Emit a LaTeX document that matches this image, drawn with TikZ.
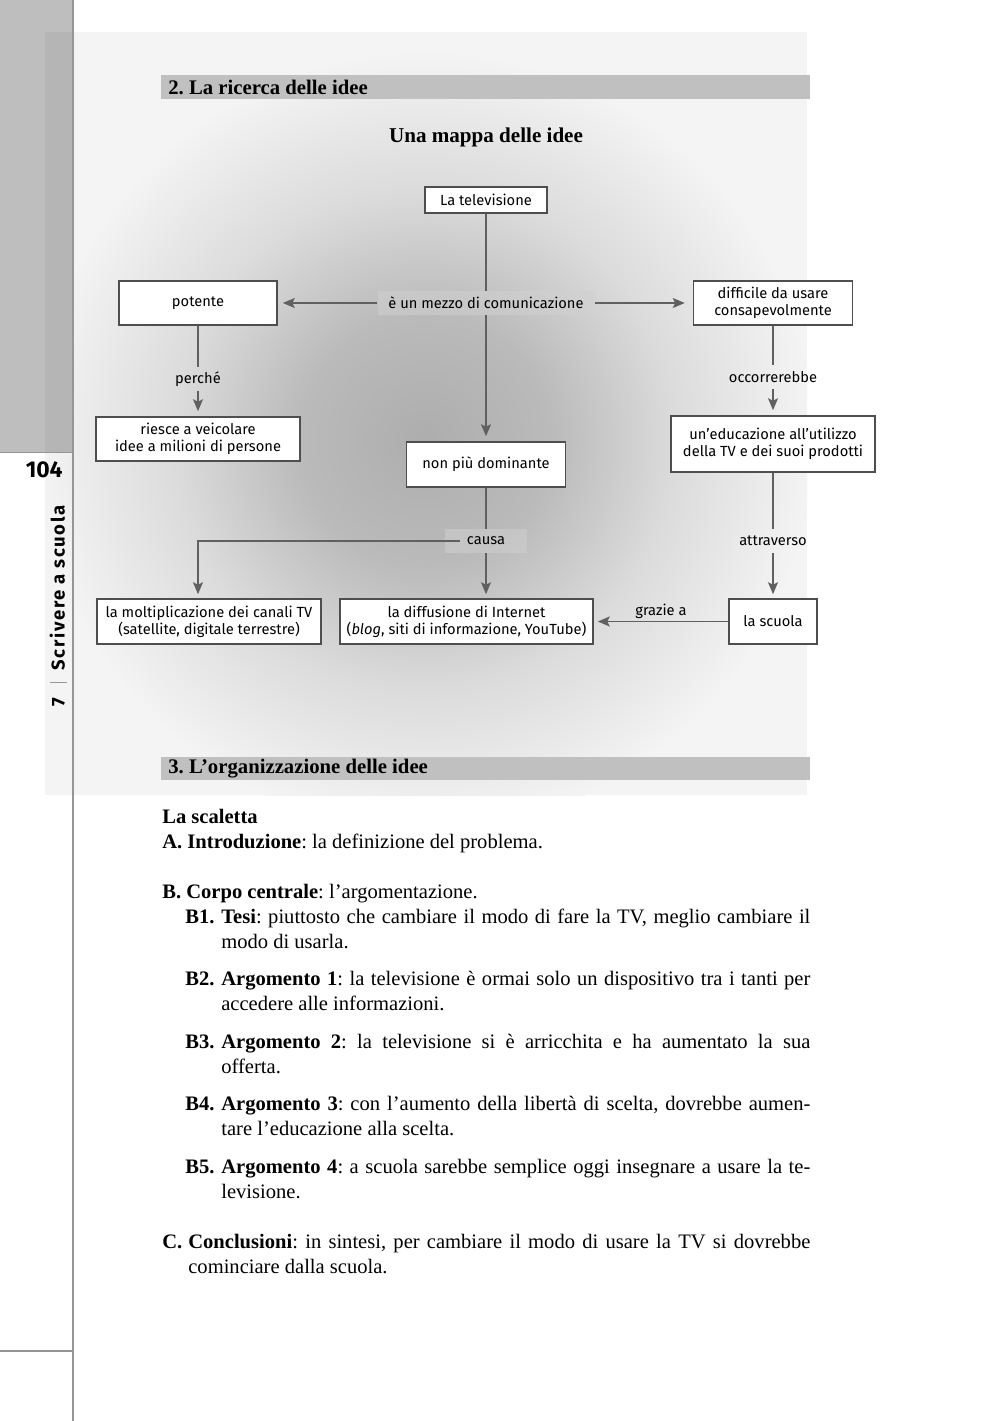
\documentclass[tikz,border=0pt]{standalone}
\usepackage{fontspec}
\setmainfont{Liberation Serif}
\setsansfont{Fira Sans}
\usetikzlibrary{arrows.meta, positioning}

\definecolor{boxgray}{RGB}{78, 78, 78}
\definecolor{linegray}{RGB}{96, 96, 96}
\definecolor{bargray}{RGB}{192, 192, 192}
\definecolor{sidegray}{RGB}{190, 190, 190}
\definecolor{pagegray}{RGB}{244, 244, 244}
\definecolor{rulegray}{RGB}{150, 150, 150}
\pgfdeclareradialshading{cloud}{\pgfpoint{0bp}{0bp}}{color(0bp)=(black!32); color(8bp)=(black!27); color(16bp)=(black!14); color(25bp)=(pagegray); color(50bp)=(pagegray)}

\newcommand{\giusta}[2]{\makebox[#1][s]{#2}}
\frenchspacing

\tikzset{
  idea/.style={draw=boxgray, line width=0.9pt, fill=white, font=\sffamily\fontsize{8.35}{9.8}\selectfont, align=center, inner sep=0pt},
  verb/.style={font=\sffamily\fontsize{8.35}{9.8}\selectfont, inner sep=0pt, minimum height=4.8mm},
  verbbg/.style={verb, fill=black!18, fill opacity=0.5, text opacity=1},
  link/.style={draw=linegray, line width=0.9pt},
  arrow/.style={link, -{Stealth[length=2.4mm, width=2mm, inset=0.5mm]}, shorten >=1mm},
  heading/.style={anchor=west, inner sep=0pt, font=\fontsize{11.8}{13}\selectfont\bfseries},
  body/.style={anchor=base west, inner sep=0pt, font=\fontsize{11.7}{14}\selectfont}
}

\begin{document}
\begin{tikzpicture}[x=0.2mm, y=-0.2mm]
\useasboundingbox (0,0) rectangle (990,1421);

% page background and side band
\fill[pagegray] (45,32) rectangle (807,795);
\begin{scope}
\clip (45,32) rectangle (807,795);
\shade[shading=cloud] (425,440) circle [radius=390];
\end{scope}
\fill[sidegray] (0,0) rectangle (73,452);
\fill[black!29] (45,32) rectangle (73,452);
\draw[rulegray, line width=0.6pt] (73,0) -- (73,1421);
\draw[rulegray, line width=0.5pt] (0,452) -- (73,452);
\draw[rulegray, line width=0.6pt] (0,1351) -- (73,1351);
\node[anchor=east, inner sep=0pt, font=\sffamily\bfseries\fontsize{13}{15}\selectfont] (pagina) at (63,470) {104};
\node[rotate=90, inner sep=0pt, font=\sffamily\bfseries\fontsize{10.5}{12}\selectfont] (sezione) at (58,606)
  {7\hspace{3mm}{\color{rulegray}\rule[-0.4mm]{0.3pt}{3.4mm}}\hspace{2.4mm}{\addfontfeatures{LetterSpace=9}Scrivere a scuola}};

% section 2
\fill[bargray] (161,75) rectangle (810,99);
\node[heading] (ricerca) at (168,87) {2. La ricerca delle idee};
\node[inner sep=0pt, font=\fontsize{12}{14}\selectfont\bfseries] (titolo) at (486,137) {Una mappa delle idee};

% map
\node[idea, minimum width=24.4mm, minimum height=5.2mm] (tv) at (486,200) {La televisione};
\node[verbbg, minimum width=43.4mm] (mezzo) at (486,303) {è un mezzo di comunicazione};
\node[idea, minimum width=31.6mm, minimum height=8.8mm] (potente) at (198,303) {potente};
\node[idea, minimum width=31.8mm, minimum height=8.8mm] (difficile) at (773,303) {difficile da usare\\consapevolmente};
\node[verb] (perche) at (198,379) {perché};
\node[idea, minimum width=40.8mm, minimum height=8.8mm] (riesce) at (198,439) {riesce a veicolare\\idee a milioni di persone};
\node[verb] (occ) at (773,377) {occorrerebbe};
\node[idea, minimum width=40.8mm, minimum height=11.2mm] (educ) at (773,444) {un’educazione all’utilizzo\\della TV e dei suoi prodotti};
\node[idea, minimum width=31.8mm, minimum height=9mm] (nonpiu) at (486,464.5) {non più dominante};
\node[verbbg, minimum width=16.4mm] (causa) at (486,541) {causa};
\node[verb] (attr) at (773,541) {attraverso};
\node[idea, minimum width=44.8mm, minimum height=9mm] (molt) at (209,621.5) {la moltiplicazione dei canali TV\\(satellite, digitale terrestre)};
\node[idea, minimum width=50.6mm, minimum height=9mm] (internet) at (466.5,621.5) {la diffusione di Internet\\(\textit{blog}, siti di informazione, YouTube)};
\node[idea, minimum width=17.6mm, minimum height=9mm] (scuola) at (773,621.5) {la scuola};

\draw[link] (tv) -- (mezzo);
\draw[arrow] (mezzo) -- (potente);
\draw[arrow, shorten >=1.6mm] (mezzo) -- (difficile);
\draw[arrow] (mezzo) -- (nonpiu);
\draw[link] (potente) -- (perche);
\draw[arrow] (perche) -- (riesce);
\draw[link] (difficile) -- (occ);
\draw[arrow] (occ) -- (educ);
\draw[link] (nonpiu) -- (causa);
\draw[arrow, shorten >=0.8mm] (causa.south) -- (causa.south |- internet.north);
\draw[arrow, shorten >=0.8mm, shorten <=-3mm] (causa.west) -| ([xshift=-2.2mm]molt.north);
\draw[link] (educ) -- (attr);
\draw[arrow, shorten >=0.8mm] (attr) -- (scuola);
\draw[arrow, shorten >=0.8mm] (scuola) -- node[verb, above, yshift=-0.6mm] (grazie) {grazie a} (internet);

% section 3
\fill[bargray] (161,757) rectangle (810,780);
\node[heading] (organizzazione) at (168,768.5) {3. L’organizzazione delle idee};

\node[body] (scaletta) at (162,823) {\textbf{La scaletta}};
\node[body] (introd) at (162,848) {\textbf{A. Introduzione}: la definizione del problema.};
\node[body] (corpo) at (162,898) {\textbf{B. Corpo centrale}: l’argomentazione.};
\node[body] (b1) at (185,923) {\makebox[7.2mm][l]{\textbf{B1.}}\giusta{117.8mm}{\textbf{Tesi}: piuttosto che cambiare il modo di fare la TV, meglio cambiare il}};
\node[body] (b1b) at (221,948) {modo di usarla.};
\node[body] (b2) at (185,985) {\makebox[7.2mm][l]{\textbf{B2.}}\giusta{117.8mm}{\textbf{Argomento 1}: la televisione è ormai solo un dispositivo tra i tanti per}};
\node[body] (b2b) at (221,1010) {accedere alle informazioni.};
\node[body] (b3) at (185,1048) {\makebox[7.2mm][l]{\textbf{B3.}}\giusta{117.8mm}{\textbf{Argomento 2}: la televisione si è arricchita e ha aumentato la sua}};
\node[body] (b3b) at (221,1073) {offerta.};
\node[body] (b4) at (185,1110) {\makebox[7.2mm][l]{\textbf{B4.}}\giusta{117.8mm}{\textbf{Argomento 3}: con l’aumento della libertà di scelta, dovrebbe aumen-}};
\node[body] (b4b) at (221,1135) {tare l’educazione alla scelta.};
\node[body] (b5) at (185,1173) {\makebox[7.2mm][l]{\textbf{B5.}}\giusta{117.8mm}{\textbf{Argomento 4}: a scuola sarebbe semplice oggi insegnare a usare la te-}};
\node[body] (b5b) at (221,1198) {levisione.};
\node[body] (concl) at (162,1248) {\makebox[5.2mm][l]{\textbf{C.}}\giusta{124.4mm}{\textbf{Conclusioni}: in sintesi, per cambiare il modo di usare la TV si dovrebbe}};
\node[body] (conclb) at (188,1273) {cominciare dalla scuola.};
\end{tikzpicture}
\end{document}
